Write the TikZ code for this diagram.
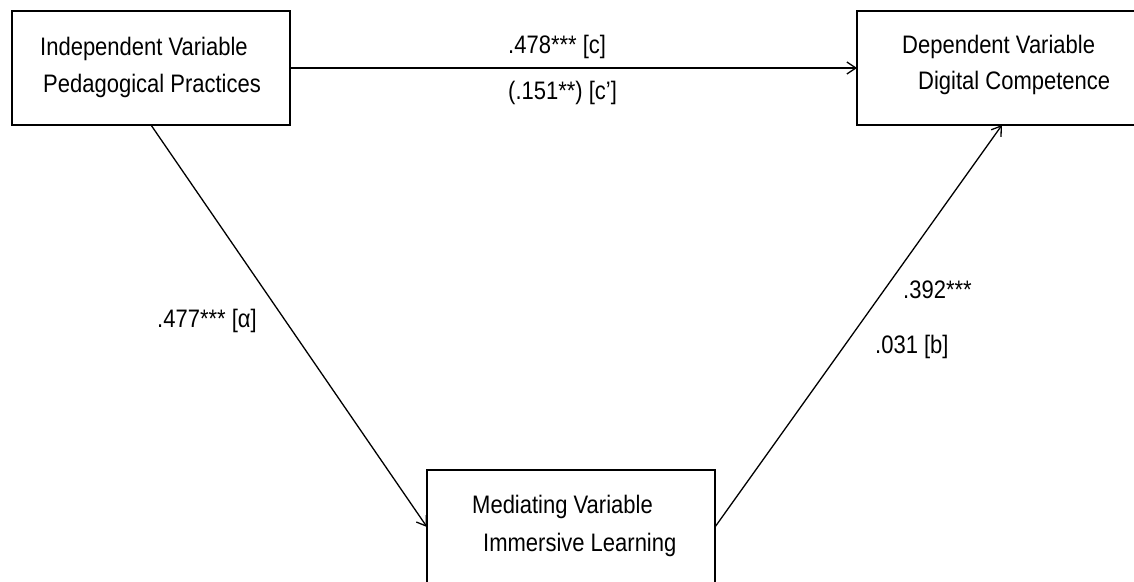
\documentclass[tikz,border=0pt]{standalone}
\usepackage{fontspec}
\usepackage{graphicx}
\setmainfont{Liberation Sans}
\usetikzlibrary{arrows.meta}
\newcommand\vstretch[1]{\scalebox{1}[1.15]{#1}}
\begin{document}
\begin{tikzpicture}[x=1pt,y=-1pt,
  varbox/.style={draw, line width=2.2pt, rectangle, outer sep=0pt, inner sep=0pt},
  arr/.style={line width=1.3pt, -{Straight Barb[length=9pt,width=12pt,line width=1.3pt]}},
  txt/.style={anchor=base west, inner sep=0pt, font=\fontsize{22}{26}\selectfont},
]
\useasboundingbox (0,0) rectangle (1134,581);
\clip (0,0) rectangle (1134,581);
\fill[white] (0,0) rectangle (1134,581);
% boxes
\node[varbox, minimum width=278pt, minimum height=114pt] (iv) at (151,68) {};
\node[varbox, minimum width=290pt, minimum height=114pt] (dv) at (1002,68) {};
\node[varbox, minimum width=288pt, minimum height=114pt] (mv) at (571,527) {};
% box texts
\node[txt] (iv1) at (40,55) {\vstretch{Independent Variable}};
\node[txt] (iv2) at (43,92) {\vstretch{Pedagogical Practices}};
\node[txt] (dv1) at (902,53) {\vstretch{Dependent Variable}};
\node[txt] (dv2) at (918,89) {\vstretch{Digital Competence}};
\node[txt] (mv1) at (472,513) {\vstretch{Mediating Variable}};
\node[txt] (mv2) at (483,551) {\vstretch{Immersive Learning}};
% connectors
\draw[arr] (iv.east) -- (dv.west);
\draw[arr] (iv.south) -- (mv.west);
\draw[arr] (mv.east) -- (dv.south);
% labels
\node[txt] (lc) at (508,53) {\vstretch{.478*** [c]}};
\node[txt] (lcp) at (508,99) {\vstretch{(.151**) [c']}};
\node[txt] (la) at (157,327) {\vstretch{.477*** [α]}};
\node[txt] (lb1) at (903,298) {\vstretch{.392***}};
\node[txt] (lb2) at (875,353) {\vstretch{.031 [b]}};
\end{tikzpicture}
\end{document}
